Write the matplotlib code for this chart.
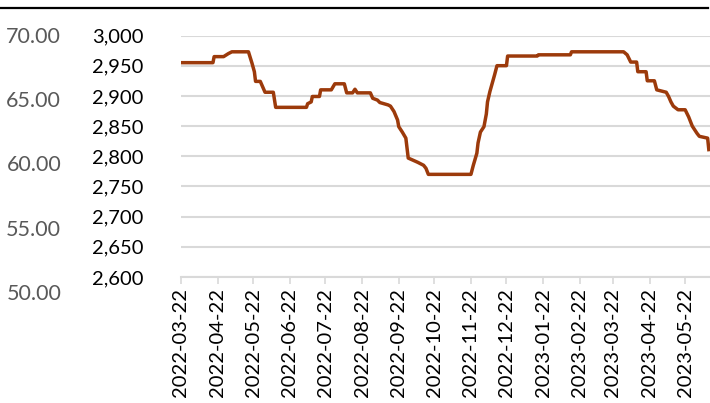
import numpy as np
import pandas as pd
import matplotlib
matplotlib.use("Agg")
import matplotlib.pyplot as plt
import matplotlib.dates as mdates
from matplotlib.lines import Line2D
from matplotlib.ticker import FuncFormatter

plt.rcParams['font.family'] = ['Lato', 'DejaVu Sans']

# days since 2022-03-22 and price
day_offset = [0, 27, 28, 36, 40, 43, 57, 60, 62, 63, 67, 69, 71, 78, 80, 106, 107, 110, 111,
              117, 118, 127, 130, 138, 140, 145, 147, 149, 160, 162, 166, 168, 175, 177, 180,
              183, 184, 187, 190, 192, 200, 205, 207, 209, 245, 247, 250, 251, 253, 256, 258,
              259, 261, 263, 265, 267, 275, 276, 301, 302, 329, 330, 374, 377, 380, 385, 386,
              393, 394, 400, 402, 410, 412, 414, 416, 420, 426, 429, 432, 436, 438, 445, 446]
price = [2955, 2955, 2965, 2965, 2970, 2973, 2973, 2954, 2940, 2924, 2924, 2915, 2906, 2906, 2881,
         2881, 2887, 2890, 2899, 2899, 2910, 2910, 2920, 2920, 2905, 2905, 2911, 2905, 2905, 2896,
         2893, 2889, 2885, 2883, 2874, 2860, 2849, 2840, 2830, 2797, 2790, 2785, 2780, 2770, 2770,
         2785, 2805, 2822, 2840, 2849, 2870, 2890, 2907, 2921, 2935, 2950, 2950, 2966, 2966, 2968,
         2968, 2973, 2973, 2968, 2956, 2956, 2940, 2940, 2925, 2925, 2910, 2906, 2899, 2890, 2883,
         2877, 2877, 2865, 2850, 2838, 2833, 2830, 2811]
start_date = "2022-03-22"
end_date = "2023-06-12"
tick_dates = pd.date_range("2022-03-01", "2023-05-01", freq="MS") + pd.Timedelta(days=21)
left_ticks = [50, 55, 60, 65, 70]

dates = pd.Timestamp(start_date) + pd.to_timedelta(day_offset, unit="D")

fig = plt.figure(figsize=(7.10, 4.03), dpi=100)
ax = fig.add_axes([181/710, 1-277/403, 1-181/710, (277-35.5)/403])

ax.plot(dates, price, color='#9C3A0B', lw=2.5, solid_joinstyle='round')
ax.set_ylim(2600, 3000)
ax.set_xlim(pd.Timestamp(start_date), pd.Timestamp(end_date))
ax.set_yticks(np.arange(2600, 3001, 50))
ax.yaxis.set_major_formatter(FuncFormatter(lambda v, p: f"{int(v):,}"))
ax.set_xticks(tick_dates)
ax.xaxis.set_major_formatter(mdates.DateFormatter('%Y-%m-%d'))
ax.tick_params(axis='x', rotation=90, length=5, color='#d9d9d9', width=1.2, labelsize=14.5, pad=3)
ax.tick_params(axis='y', length=0, labelsize=14.5, pad=27)
ax.grid(axis='y', color='#d9d9d9', lw=1.5)
ax.set_axisbelow(True)
for s in ['top', 'right', 'left']:
    ax.spines[s].set_visible(False)
ax.spines['bottom'].set_color('#d9d9d9')
ax.spines['bottom'].set_linewidth(1.5)

# left gray axis
ax2 = fig.add_axes([64/710, 1-292/403, 0.01, (292-35)/403])
ax2.set_ylim(50, 70)
ax2.set_yticks(left_ticks)
ax2.yaxis.set_major_formatter(FuncFormatter(lambda v, p: f"{v:.2f}"))
ax2.tick_params(axis='y', length=0, labelsize=15.5, labelcolor='#595959', pad=2)
ax2.set_xticks([])
for s in ax2.spines.values():
    s.set_visible(False)
ax2.patch.set_visible(False)

fig.add_artist(Line2D([0, 708/710], [1-8/403, 1-8/403], color='black', lw=1.6,
                      transform=fig.transFigure))

fig.savefig('out.png', dpi=100)
